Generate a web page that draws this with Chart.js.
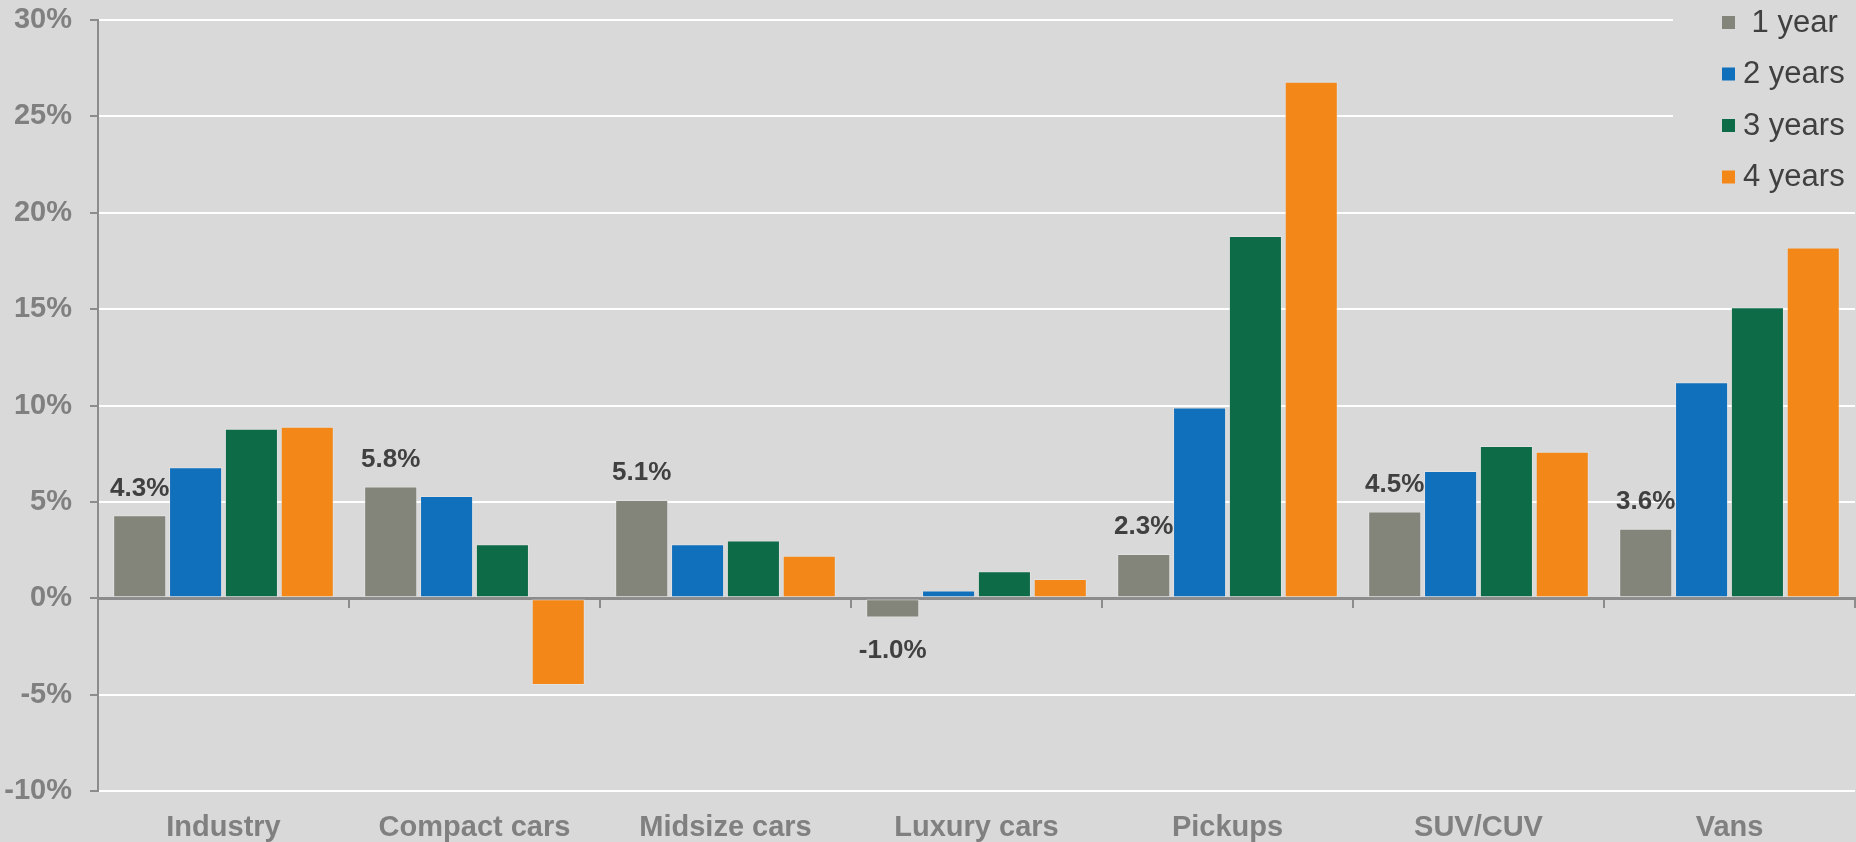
<!DOCTYPE html>
<html>
<head>
<meta charset="utf-8">
<script src="https://cdn.jsdelivr.net/npm/chart.js@4/dist/chart.umd.min.js"></script>
<style>
  html, body { margin: 0; padding: 0; background: #d9d9d9; }
  #wrap { width: 1856px; height: 842px; position: relative; }
</style>
</head>
<body>
<div id="wrap"><canvas id="salesChart"></canvas></div>
<script>
const categories = ["Industry", "Compact cars", "Midsize cars", "Luxury cars", "Pickups", "SUV/CUV", "Vans"];
const seriesNames = [" 1 year", "2 years", "3 years", "4 years"];
const oneYear = [4.3, 5.8, 5.1, -1.0, 2.3, 4.5, 3.6];
const twoYears = [6.8, 5.3, 2.8, 0.4, 9.9, 6.6, 11.2];
const threeYears = [8.8, 2.8, 3.0, 1.4, 18.8, 7.9, 15.1];
const fourYears = [8.9, -4.5, 2.2, 1.0, 26.8, 7.6, 18.2];
const yTicks = [-10, -5, 0, 5, 10, 15, 20, 25, 30];

const colors = ["#83857a", "#1170bc", "#0e6b48", "#f38718"];
const gray = "#8c8c8c";
const FONT = "'Liberation Sans', Arial, sans-serif";

// labels above the 1 year bars + legend box in the top right corner
const extras = {
  id: "extras",
  afterDatasetsDraw(chart) {
    const ctx = chart.ctx;
    const meta = chart.getDatasetMeta(0);
    ctx.save();
    ctx.font = "bold 26px " + FONT;
    ctx.fillStyle = "#404040";
    ctx.textAlign = "center";
    ctx.textBaseline = "middle";
    meta.data.forEach((bar, i) => {
      const v = oneYear[i];
      const y = v >= 0 ? bar.y - 27 : bar.y + 33;
      ctx.fillText(v.toFixed(1) + "%", bar.x, y);
    });

    ctx.fillStyle = "#d9d9d9";
    ctx.fillRect(1673, 0, chart.width - 1673, 196);
    ctx.font = "31px " + FONT;
    ctx.textAlign = "left";
    chart.data.datasets.forEach((ds, i) => {
      const y = 22 + i * 51.5;
      ctx.fillStyle = ds.backgroundColor;
      ctx.fillRect(1722, y - 6, 13, 13);
      ctx.fillStyle = "#404040";
      ctx.fillText(ds.label, 1743, y + 1);
    });
    ctx.restore();
  },
};

new Chart(document.getElementById("salesChart"), {
  type: "bar",
  data: {
    labels: categories,
    datasets: [oneYear, twoYears, threeYears, fourYears].map((d, i) => ({
      label: seriesNames[i],
      data: d,
      backgroundColor: colors[i],
      borderColor: "rgba(235,235,235,0.45)",
      borderWidth: 1,
      borderSkipped: false,
      barPercentage: 0.95,
      categoryPercentage: 0.89,
    })),
  },
  options: {
    responsive: true,
    maintainAspectRatio: false,
    animation: false,
    layout: { padding: { top: 20, right: 1, left: 0, bottom: 0 } },
    plugins: { legend: { display: false }, tooltip: { enabled: false } },
    scales: {
      x: {
        position: "bottom",
        grid: { display: false },
        border: { display: false },
        ticks: {
          color: "#808080",
          padding: 12,
          font: { family: FONT, size: 29, weight: "bold" },
        },
        afterFit: (scale) => { scale.height = 51; },
      },
      x2: {
        type: "category",
        labels: categories,
        position: { y: 0 },
        offset: true,
        grid: { offset: true, drawOnChartArea: false, color: gray, tickLength: 8, lineWidth: 2 },
        border: { color: gray, width: 3 },
        ticks: { display: false },
        afterFit: (scale) => { scale.height = 0; },
      },
      y: {
        min: -10,
        max: 30,
        afterBuildTicks: (scale) => { scale.ticks = yTicks.map((v) => ({ value: v })); },
        grid: {
          color: (c) => (c.tick && c.tick.value === 0 ? "rgba(0,0,0,0)" : "#ffffff"),
          lineWidth: 2,
          tickColor: gray,
          tickLength: 8,
        },
        border: { color: gray, width: 2 },
        ticks: {
          color: "#808080",
          padding: 18,
          callback: (v) => v + "%",
          font: { family: FONT, size: 29, weight: "bold" },
        },
        afterFit: (scale) => {
          scale.width = 98;
          scale.paddingTop = 0;
          scale.paddingBottom = 0;
        },
      },
    },
  },
  plugins: [extras],
});
</script>
</body>
</html>
